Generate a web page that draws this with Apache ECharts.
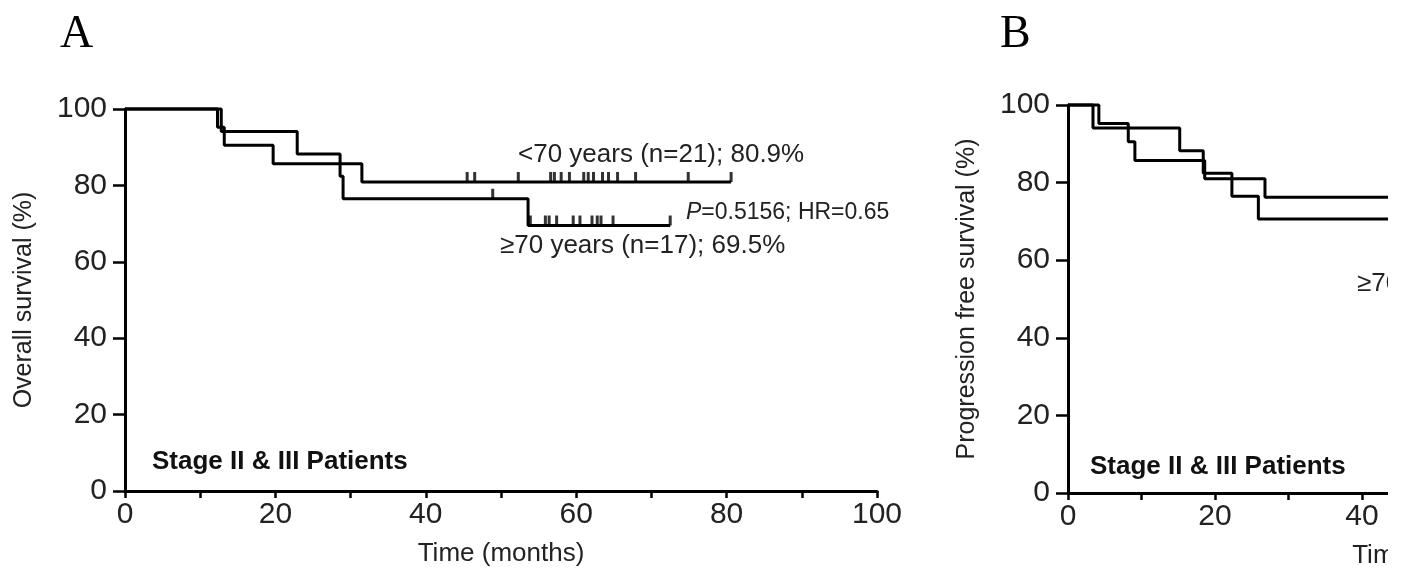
<!DOCTYPE html>
<html>
<head>
<meta charset="utf-8">
<script src="https://cdn.jsdelivr.net/npm/echarts@6.0.0/dist/echarts.min.js"></script>
<style>
  html, body { margin: 0; padding: 0; background: #fff; overflow: hidden; }
  /* 右侧面板在原图里被裁掉，外层只露出 1388px */
  #wrap { width: 1388px; height: 574px; overflow: hidden; }
  #main { width: 1900px; height: 574px; }
</style>
</head>
<body>
<div id="wrap"><div id="main"></div></div>
<script>
// ---- panel A: overall survival ----
// <70 years (n=21)
const osYoungTime = [0, 12.3, 13.2, 19.7, 31.5, 80.6];
const osYoungSurv = [100, 95.2, 90.5, 85.7, 80.9, 80.9];
const osYoungCensor = [45.5, 46.5, 52.3, 56.6, 57.1, 58.0, 59.1, 61.0, 61.6, 62.3, 63.5, 64.3, 65.5, 67.9, 74.9, 80.6];
// >=70 years (n=17)
const osOldTime = [0, 12.8, 22.9, 28.6, 29.0, 53.6, 72.5];
const osOldSurv = [100, 94.1, 88.2, 82.4, 76.5, 69.5, 69.5];
const osOldCensor = [48.9, 53.9, 55.9, 56.4, 57.4, 59.6, 60.5, 62.1, 62.8, 63.3, 64.9, 72.5];
const osOldCensorSurv = [76.5, 69.5, 69.5, 69.5, 69.5, 69.5, 69.5, 69.5, 69.5, 69.5, 69.5, 69.5];

// ---- panel B: progression free survival ----
const pfsOldTime = [0, 3.4, 15.2, 18.4, 22.3, 25.9, 44];
const pfsOldSurv = [100, 94.1, 88.2, 82.4, 76.5, 70.6, 70.6];
const pfsYoungTime = [0, 4.2, 8.2, 9.1, 18.6, 26.8, 44];
const pfsYoungSurv = [100, 95.2, 90.5, 85.7, 81.0, 76.2, 76.2];

// axis ticks
const yTicks = [0, 20, 40, 60, 80, 100];
const xTicks = [0, 20, 40, 60, 80, 100];

const FONT = 'Liberation Sans, Arial, sans-serif';
const INK = '#222';

//把两个数组拼成 [x, y] 点
function pairs(xs, ys) {
    return xs.map((x, i) => [x, ys[i]]);
}

//KM 阶梯线
function kmLine(axisIdx, xs, ys) {
    return {
        type: 'line',
        xAxisIndex: axisIdx,
        yAxisIndex: axisIdx,
        step: 'end',
        symbol: 'none',
        clip: false,
        lineStyle: {color: '#000', width: 3},
        data: pairs(xs, ys)
    };
}

//删失标记 (小竖线)
function censorMarks(axisIdx, xs, ys) {
    return {
        type: 'scatter',
        xAxisIndex: axisIdx,
        yAxisIndex: axisIdx,
        symbol: 'rect',
        symbolSize: [3, 10],
        symbolOffset: [0, -5],
        clip: false,
        itemStyle: {color: '#000'},
        data: pairs(xs, ys)
    };
}

function xAxisCfg(gridIdx) {
    return {
        type: 'value',
        gridIndex: gridIdx,
        min: xTicks[0],
        max: xTicks[xTicks.length - 1],
        interval: xTicks[1] - xTicks[0],
        name: 'Time (months)',
        nameLocation: 'middle',
        nameGap: 50,
        nameTextStyle: {fontFamily: FONT, fontSize: 26, color: INK},
        axisLine: {lineStyle: {color: '#000', width: 3}},
        axisTick: {length: 7, lineStyle: {color: '#000', width: 2.5}},
        minorTick: {show: true, splitNumber: 2, length: 7, lineStyle: {color: '#000', width: 2.5}},
        axisLabel: {fontFamily: FONT, fontSize: 30, color: INK, margin: 9},
        splitLine: {show: false},
        minorSplitLine: {show: false}
    };
}

function yAxisCfg(gridIdx, title) {
    return {
        type: 'value',
        gridIndex: gridIdx,
        min: yTicks[0],
        max: yTicks[yTicks.length - 1],
        interval: yTicks[1] - yTicks[0],
        name: title,
        nameLocation: 'middle',
        nameGap: 88,
        nameTextStyle: {fontFamily: FONT, fontSize: 25, color: INK},
        axisLine: {show: true, lineStyle: {color: '#000', width: 3}},
        axisTick: {show: true, length: 12, lineStyle: {color: '#000', width: 2.5}},
        axisLabel: {fontFamily: FONT, fontSize: 30, color: INK, margin: 18},
        splitLine: {show: false}
    };
}

let chart = echarts.init(document.getElementById('main'), null, {renderer: 'canvas'});

let option = {
    backgroundColor: '#fff',
    animation: false,
    grid: [
        {left: 125, top: 109, width: 752, height: 382},
        {left: 1068, top: 105, width: 735, height: 391}
    ],
    xAxis: [xAxisCfg(0), xAxisCfg(1)],
    yAxis: [
        yAxisCfg(0, 'Overall survival (%)'),
        yAxisCfg(1, 'Progression free survival (%)')
    ],
    series: [
        kmLine(0, osYoungTime, osYoungSurv),
        censorMarks(0, osYoungCensor, osYoungCensor.map(() => osYoungSurv[osYoungSurv.length - 1])),
        kmLine(0, osOldTime, osOldSurv),
        censorMarks(0, osOldCensor, osOldCensorSurv),
        kmLine(1, pfsOldTime, pfsOldSurv),
        kmLine(1, pfsYoungTime, pfsYoungSurv)
    ],
    graphic: [
        //面板标号
        {type: 'text', left: 60, top: 12, style: {text: 'A', font: '46px "Liberation Serif", serif', fill: '#000'}},
        {type: 'text', left: 1000, top: 12, style: {text: 'B', font: '46px "Liberation Serif", serif', fill: '#000'}},
        //组别注释
        {type: 'text', left: 518, top: 142, style: {text: '<70 years (n=21); 80.9%', font: '26px ' + FONT, fill: INK}},
        {type: 'text', left: 500, top: 233, style: {text: '\u226570 years (n=17); 69.5%', font: '26px ' + FONT, fill: INK}},
        {type: 'text', left: 686, top: 201, style: {
            rich: {p: {font: 'italic 23px ' + FONT, fill: INK}, t: {font: '23px ' + FONT, fill: INK}},
            text: '{p|P}{t|=0.5156; HR=0.65}'
        }},
        {type: 'text', left: 1357, top: 271, style: {text: '\u226570 years (n=17)', font: '26px ' + FONT, fill: INK}},
        //分期说明
        {type: 'text', left: 152, top: 449, style: {text: 'Stage II & III Patients', font: 'bold 26px ' + FONT, fill: '#111'}},
        {type: 'text', left: 1090, top: 454, style: {text: 'Stage II & III Patients', font: 'bold 26px ' + FONT, fill: '#111'}}
    ]
};

chart.setOption(option);
</script>
</body>
</html>
